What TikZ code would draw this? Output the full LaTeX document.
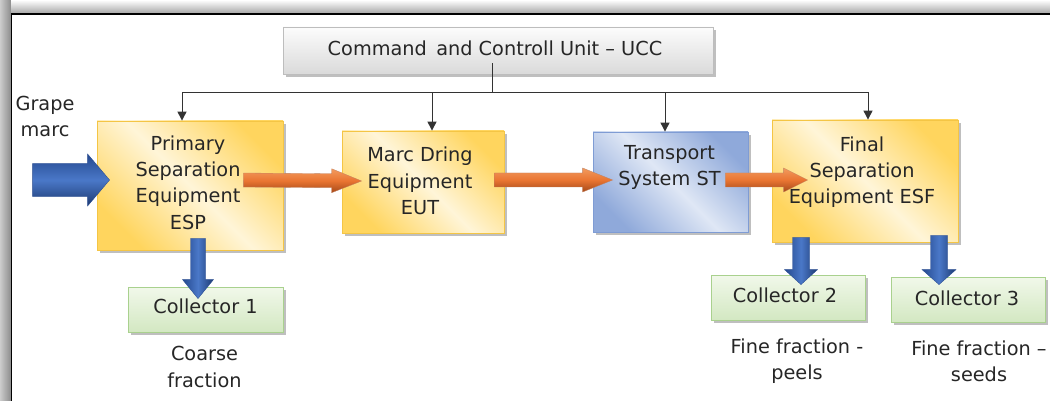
\documentclass[tikz,border=0pt]{standalone}
\usepackage{fontspec}
\setmainfont{DejaVu Sans}
\usetikzlibrary{calc,shadows,arrows.meta}

\definecolor{txt}{HTML}{262626}
\definecolor{goldD}{HTML}{FFD55E}
\definecolor{goldL}{HTML}{FFF5D8}
\definecolor{goldB}{HTML}{F4C545}
\definecolor{blueBoxD}{HTML}{8FA9DA}
\definecolor{blueBoxL}{HTML}{DFE7F5}
\definecolor{blueBoxB}{HTML}{7F9CD4}
\definecolor{greenT}{HTML}{F1F8EA}
\definecolor{greenB}{HTML}{D3E8C2}
\definecolor{greenE}{HTML}{A9D18E}
\definecolor{grayT}{HTML}{FCFCFC}
\definecolor{grayB}{HTML}{DADADA}
\definecolor{grayE}{HTML}{BDBDBD}
\definecolor{arrBlueD}{HTML}{24488E}
\definecolor{arrBlueM}{HTML}{4A78C8}
\definecolor{arrOrgL}{HTML}{F29A5E}
\definecolor{arrOrgM}{HTML}{E97532}
\definecolor{arrOrgD}{HTML}{A5491A}

% fat block arrow: style, start, tip, shaft half width, head half width, head length
\newcommand\fatarrow[6]{%
  \coordinate (fa-a) at (#2);
  \coordinate (fa-b) at (#3);
  \coordinate (fa-h) at ($(fa-b)!#6!(fa-a)$);
  \path[#1] ($(fa-a)!#4!90:(fa-b)$) -- ($(fa-h)!#4!90:(fa-b)$)
    -- ($(fa-h)!#5!90:(fa-b)$) -- (fa-b) -- ($(fa-h)!#5!-90:(fa-b)$)
    -- ($(fa-h)!#4!-90:(fa-b)$) -- ($(fa-a)!#4!-90:(fa-b)$) -- cycle;
}

\tikzset{
  shadowed/.style={drop shadow={shadow xshift=3pt,shadow yshift=-3pt,opacity=0.45,fill=black!55}},
  yellowbox/.style={shadowed,draw=goldB,line width=0.8pt,top color=goldD,bottom color=goldD,middle color=goldL,shading angle=-45},
  bluebox/.style={shadowed,draw=blueBoxB,line width=0.8pt,top color=blueBoxD,bottom color=blueBoxD,middle color=blueBoxL,shading angle=-45},
  collbox/.style={shadowed,draw=greenE,line width=0.8pt,top color=greenT,bottom color=greenB},
  cmdbox/.style={shadowed,draw=grayE,line width=0.8pt,top color=grayT,bottom color=grayB},
  lbl/.style={text=txt,align=center,inner sep=0pt,font=\fontsize{19.3}{26.3}\selectfont},
  ctl/.style={draw=black!80,line width=1pt},
  ctlarrow/.style={ctl,-{Triangle[length=9pt,width=9pt]}},
  orangearrow/.style={top color=arrOrgL,bottom color=arrOrgD,middle color=arrOrgM,draw=arrOrgD!70,line width=0.3pt},
  bluearrowH/.style={top color=arrBlueD,bottom color=arrBlueD!80!black,middle color=arrBlueM,draw=arrBlueD,line width=0.3pt},
  bluearrowV/.style={left color=arrBlueD,right color=arrBlueD!80!black,middle color=arrBlueM,draw=arrBlueD,line width=0.3pt},
}

\begin{document}
\begin{tikzpicture}[x=1pt,y=-1pt]
  \useasboundingbox (0,0) rectangle (1050,401);
  \clip (0,0) rectangle (1050,401);
  \fill[white] (0,0) rectangle (1050,401);

  % window frame with its soft shadow
  \shade[top color=white,bottom color=black!35] (0,0) rectangle (1050,13.5);
  \shade[left color=black!20,right color=black!45] (0,0) rectangle (10.8,401);
  \draw[line width=1.6pt] (11.5,420) -- (11.5,14) -- (1070,14);

  % blocks
  \node[cmdbox,minimum width=430pt,minimum height=47pt] (ucc) at (498,50.5) {};
  \node[yellowbox,minimum width=186pt,minimum height=129pt] (esp) at (190,185.5) {};
  \node[yellowbox,minimum width=162pt,minimum height=102pt] (eut) at (423,182) {};
  \node[bluebox,minimum width=155pt,minimum height=100pt] (st) at (670.5,182) {};
  \node[yellowbox,minimum width=186pt,minimum height=122pt] (esf) at (865,181) {};
  \node[collbox,minimum width=155pt,minimum height=45pt] (c1) at (205.5,309.5) {};
  \node[collbox,minimum width=154pt,minimum height=45pt] (c2) at (788,297.5) {};
  \node[collbox,minimum width=154pt,minimum height=45pt] (c3) at (968,299.5) {};

  % block texts
  \node[lbl] (ucc-t) at ($(ucc)+(-3,-2)$) {Command\, and Controll Unit -- UCC};
  \node[lbl] (esp-t) at ($(esp)+(-2,-3)$) {Primary\\Separation\\Equipment\\ESP};
  \node[lbl] (eut-t) at ($(eut)+(-3,-1)$) {Marc Dring\\Equipment\\EUT};
  \node[lbl] (st-t) at ($(st)+(-1,-14.5)$) {Transport\\System ST};
  \node[lbl] (esf-t) at ($(esf)+(-3,-9)$) {Final\\Separation\\Equipment ESF};
  \node[lbl] (c1-t) at ($(c1)+(0,-3)$) {Collector 1};
  \node[lbl] (c2-t) at ($(c2)+(-3,-2)$) {Collector 2};
  \node[lbl] (c3-t) at ($(c3)+(-1,-1)$) {Collector 3};

  % free labels
  \node[lbl] (grape) at (45,116.5) {Grape\\marc};
  \node[lbl] (coarse) at ($(c1)+(-1,57.5)$) {Coarse\\fraction};
  \node[lbl] (peels) at ($(c2)+(9,63.5)$) {Fine fraction -\\peels};
  \node[lbl] (seeds) at ($(c3)+(11,61.5)$) {Fine fraction --\\seeds};

  % control bus from the command unit
  \coordinate (bus) at ($(ucc.south)+(-6,18)$);
  \coordinate (espin) at ($(esp.north)+(-8,0)$);
  \coordinate (eutin) at ($(eut.north)+(9,0)$);
  \coordinate (stin) at ($(st.north)+(-5.5,0)$);
  \coordinate (esfin) at ($(esf.north)+(3,0)$);
  \draw[ctl] ($(ucc.south)+(-6,-11)$) -- (bus);
  \draw[ctl] (bus -| espin) -- (bus -| esfin);
  \draw[ctlarrow] (bus -| espin) -- (espin);
  \draw[ctlarrow] (bus -| eutin) -- (eutin);
  \draw[ctlarrow] (bus -| stin) -- (stin);
  \draw[ctlarrow] (bus -| esfin) -- (esfin);

  % material flow
  \coordinate (feed-tip) at ($(esp.west)+(13,-5.5)$);
  \coordinate (feed) at ($(feed-tip)+(-77,0)$);
  \fatarrow{bluearrowH}{feed}{feed-tip}{16.5pt}{26pt}{22pt}

  \coordinate (o1a) at ($(esp.east)+(-40,-5.5)$);
  \coordinate (o1b) at ($(eut.west)+(20,-1)$);
  \fatarrow{orangearrow}{o1a}{o1b}{7pt}{12pt}{30pt}
  \coordinate (o2a) at ($(eut.east)+(-10,-2)$);
  \coordinate (o2b) at ($(st.west)+(20,-2)$);
  \fatarrow{orangearrow}{o2a}{o2b}{7pt}{12pt}{30pt}
  \coordinate (o3a) at ($(st.east)+(-23,-2)$);
  \coordinate (o3b) at ($(esf.west)+(36,-1)$);
  \fatarrow{orangearrow}{o3a}{o3b}{7pt}{12pt}{24pt}

  \coordinate (d1a) at ($(esp.south)+(8,-12)$);
  \coordinate (d1b) at ($(c1.north)+(-7.5,12)$);
  \fatarrow{bluearrowV}{d1a}{d1b}{7.5pt}{15.5pt}{19pt}
  \coordinate (d2a) at ($(esf.south)+(-64,-5)$);
  \coordinate (d2b) at ($(c2.north)+(13,10)$);
  \fatarrow{bluearrowV}{d2a}{d2b}{8.5pt}{16.5pt}{15pt}
  \coordinate (d3a) at ($(esf.south)+(74,-7)$);
  \coordinate (d3b) at ($(c3.north)+(-29,8)$);
  \fatarrow{bluearrowV}{d3a}{d3b}{8.5pt}{17pt}{15pt}
\end{tikzpicture}
\end{document}
